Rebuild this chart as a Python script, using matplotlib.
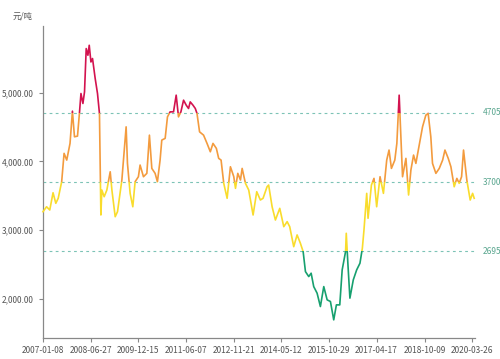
import matplotlib
matplotlib.use("Agg")
import matplotlib.pyplot as plt
import matplotlib.dates as mdates
from matplotlib.patches import Rectangle
import pandas as pd

plt.rcParams['font.family'] = ['Noto Sans CJK SC', 'DejaVu Sans']

dates = [
    "2007-01-08", "2007-02-17", "2007-03-25", "2007-05-01", "2007-06-01", "2007-06-28",
    "2007-08-06", "2007-09-02", "2007-10-02", "2007-11-08", "2007-12-05", "2007-12-28",
    "2008-01-31", "2008-02-23", "2008-03-10", "2008-04-01", "2008-04-19", "2008-05-08",
    "2008-05-27", "2008-06-11", "2008-06-30", "2008-07-18", "2008-08-17", "2008-09-12",
    "2008-10-04", "2008-10-20", "2008-10-31", "2008-11-26", "2008-12-26", "2009-02-02",
    "2009-02-21", "2009-03-30", "2009-04-25", "2009-06-13", "2009-07-31", "2009-08-15",
    "2009-09-14", "2009-10-14", "2009-11-09", "2009-12-16", "2010-01-04", "2010-02-11",
    "2010-03-21", "2010-04-19", "2010-05-16", "2010-06-22", "2010-07-18", "2010-08-17",
    "2010-09-05", "2010-10-13", "2010-11-08", "2010-12-08", "2011-01-15", "2011-02-14",
    "2011-03-12", "2011-04-08", "2011-05-08", "2011-06-07", "2011-07-03", "2011-07-22",
    "2011-08-22", "2011-09-17", "2011-10-06", "2011-11-04", "2011-12-19", "2012-01-27",
    "2012-03-04", "2012-04-03", "2012-05-11", "2012-06-06", "2012-07-03", "2012-08-02",
    "2012-09-09", "2012-10-16", "2012-11-23", "2012-12-12", "2013-01-07", "2013-02-06",
    "2013-02-25", "2013-04-03", "2013-05-10", "2013-06-28", "2013-08-08", "2013-09-18",
    "2013-10-18", "2013-12-02", "2013-12-20", "2014-01-28", "2014-03-06", "2014-04-24",
    "2014-06-08", "2014-07-16", "2014-08-14", "2014-09-28", "2014-11-05", "2014-12-12",
    "2015-01-12", "2015-02-07", "2015-03-16", "2015-04-12", "2015-05-11", "2015-06-18",
    "2015-07-25", "2015-09-01", "2015-10-09", "2015-11-15", "2015-12-22", "2016-01-21",
    "2016-02-28", "2016-03-26", "2016-05-03", "2016-05-11", "2016-05-29", "2016-06-21",
    "2016-07-29", "2016-09-05", "2016-10-12", "2016-11-08", "2016-11-26", "2016-12-27",
    "2017-01-11", "2017-02-18", "2017-03-19", "2017-04-18", "2017-05-26", "2017-07-03",
    "2017-08-09", "2017-09-04", "2017-10-01", "2017-11-08", "2017-12-01", "2017-12-27",
    "2018-01-15", "2018-02-03", "2018-03-13", "2018-04-12", "2018-05-08", "2018-06-07",
    "2018-07-03", "2018-08-09", "2018-09-16", "2018-10-23", "2018-11-18", "2018-12-18",
    "2019-01-06", "2019-02-13", "2019-03-23", "2019-04-30", "2019-05-26", "2019-07-02",
    "2019-08-01", "2019-09-07", "2019-10-07", "2019-11-02", "2019-11-29", "2019-12-21",
    "2020-01-27", "2020-03-05", "2020-04-01", "2020-04-19",
]
prices = [
    3268, 3340, 3293, 3544, 3390, 3463,
    3704, 4117, 4019, 4262, 4731, 4358,
    4368, 4721, 4988, 4843, 5012, 5642,
    5545, 5690, 5447, 5497, 5206, 4988,
    4698, 3220, 3583, 3486, 3583, 3849,
    3583, 3195, 3268, 3728, 4503, 3971,
    3535, 3340, 3704, 3777, 3947, 3777,
    3826, 4382, 3898, 3826, 3704, 4019,
    4310, 4335, 4648, 4721, 4721, 4964,
    4648, 4721, 4891, 4818, 4770, 4866,
    4818, 4770, 4698, 4430, 4382, 4262,
    4140, 4262, 4189, 4044, 4019, 3681,
    3463, 3922, 3777, 3608, 3826, 3729,
    3898, 3681, 3583, 3220, 3559, 3438,
    3463, 3631, 3656, 3340, 3147, 3317,
    3050, 3123, 3050, 2759, 2930, 2809,
    2687, 2396, 2324, 2373, 2178, 2082,
    1888, 2178, 1985, 1961, 1694, 1912,
    1912, 2421, 2687, 2954, 2518, 2010,
    2276, 2421, 2518, 2736, 2998, 3535,
    3172, 3656, 3753, 3340, 3777, 3535,
    4019, 4165, 3898, 4019, 4262, 4964,
    4358, 3777, 4044, 3511, 3874, 4092,
    3971, 4237, 4503, 4673, 4698, 4358,
    3971, 3826, 3898, 4019, 4165, 4044,
    3922, 3631, 3753, 3681, 3777, 4165,
    3729, 3438, 3535, 3463,
]

levels = [2695, 3700, 4705]
band_colors = ["#17a06f", "#f9dc2c", "#f39b3e", "#d3134f"]
tick_dates = ["2007-01-08", "2008-06-27", "2009-12-15", "2011-06-07", "2012-11-21",
              "2014-05-12", "2015-10-29", "2017-04-17", "2018-10-09", "2020-03-26"]

x = mdates.date2num(pd.to_datetime(dates))
ymin, ymax = 1430, 5970

fig = plt.figure(figsize=(5, 3.59), dpi=100)
ax = fig.add_axes([0.086, 0.0585, 0.864, 0.869])
ax.set_xlim(mdates.date2num(pd.Timestamp("2007-01-08")), mdates.date2num(pd.Timestamp("2020-04-28")))
ax.set_ylim(ymin, ymax)

# colour the line by value band, like a piecewise visual map
bounds = [ymin - 1000] + levels + [ymax + 1000]
for i, c in enumerate(band_colors):
    (ln,) = ax.plot(x, prices, color=c, lw=1.2, solid_joinstyle="round", zorder=3)
    clip = Rectangle((x[0] - 1000, bounds[i]), x[-1] - x[0] + 2000, bounds[i + 1] - bounds[i],
                     transform=ax.transData, visible=False)
    ax.add_patch(clip)
    ln.set_clip_path(clip)

for lv in levels:
    ax.axhline(lv, color="#7cc3b6", lw=0.8, ls=(0, (2.5, 3)), zorder=2)
    ax.text(1.018, lv, str(lv), transform=ax.get_yaxis_transform(), va="center", ha="left",
            fontsize=6, color="#5aa68f")

for side in ["top", "right"]:
    ax.spines[side].set_visible(False)
for side in ["left", "bottom"]:
    ax.spines[side].set_color("#888888")
    ax.spines[side].set_linewidth(0.9)

ax.set_yticks([2000, 3000, 4000, 5000])
ax.set_yticklabels([f"{v:,.2f}" for v in [2000, 3000, 4000, 5000]])
ax.set_xticks(mdates.date2num(pd.to_datetime(tick_dates)))
ax.set_xticklabels(tick_dates)
ax.tick_params(axis="both", colors="#888888", labelcolor="#555555", labelsize=6, length=3, width=0.8)
ax.tick_params(axis="x", pad=3)

fig.text(0.026, 0.955, "元/吨", fontsize=6, color="#555555", ha="left", va="center")

fig.savefig("out.png", dpi=100)
